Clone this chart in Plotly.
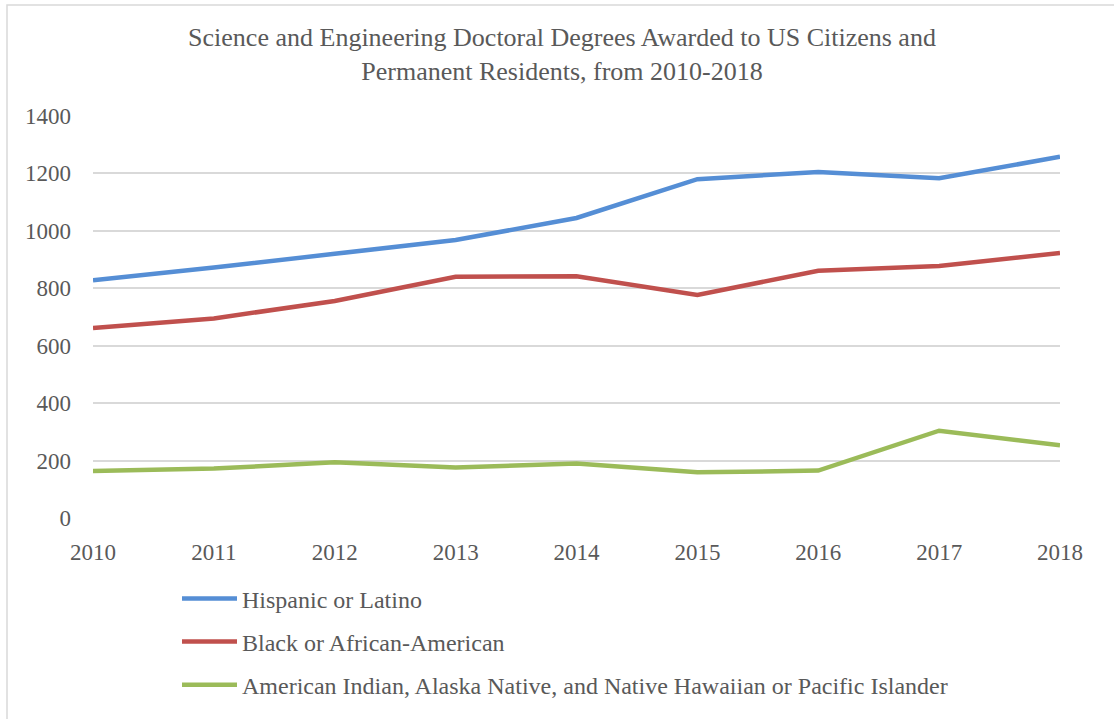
import plotly.graph_objects as go

years = [2010, 2011, 2012, 2013, 2014, 2015, 2016, 2017, 2018]
hispanic = [828, 872, 920, 968, 1045, 1180, 1205, 1183, 1258]
black = [662, 695, 756, 840, 842, 777, 861, 878, 923]
native = [164, 172, 194, 176, 190, 159, 165, 304, 253]

series_names = [
    "Hispanic or Latino",
    "Black or African-American",
    "American Indian, Alaska Native, and Native Hawaiian or Pacific Islander",
]
series_values = [hispanic, black, native]
series_colors = ["#558ED5", "#C0504D", "#9BBB59"]

title_text = ("Science and Engineering Doctoral Degrees Awarded to US Citizens and"
              "<br>Permanent Residents, from 2010-2018")

W, H = 1114, 719
L, R, T, B = 93, 1060, 116, 523

FONT = "Liberation Serif, Times New Roman, serif"
TXT = "#595959"

fig = go.Figure()
for i, (name, vals, col) in enumerate(zip(series_names, series_values, series_colors)):
    fig.add_trace(go.Scatter(
        x=years, y=vals, mode="lines", name=name,
        line=dict(color=col, width=4.5),
        legendgroup=f"g{i}",
    ))

pw, ph = R - L, B - T
def px2paper_x(px):
    return (px - L) / pw
def px2paper_y(py):
    return (B - py) / ph

fig.update_layout(
    width=W, height=H,
    margin=dict(l=L, r=W - R, t=T, b=H - B),
    paper_bgcolor="white", plot_bgcolor="white",
    font=dict(family=FONT, size=22, color=TXT),
    title=dict(text=title_text, x=562 / W, xanchor="center", xref="container",
               y=1 - 46 / H, yanchor="top", yref="container",
               font=dict(family=FONT, size=26, color=TXT)),
    xaxis=dict(range=[2010, 2018], tickmode="array", tickvals=years,
               ticktext=[str(y) for y in years], showgrid=False, zeroline=False,
               showline=False, ticks="", ticklabelstandoff=18,
               tickfont=dict(family=FONT, size=23, color=TXT)),
    yaxis=dict(range=[0, 1400], tickvals=[0, 200, 400, 600, 800, 1000, 1200, 1400],
               showgrid=True, gridcolor="#D9D9D9", gridwidth=1.5, zeroline=False,
               showline=False, ticks="", ticklabelstandoff=21,
               tickfont=dict(family=FONT, size=23, color=TXT)),
    legend=dict(x=px2paper_x(177), y=px2paper_y(582), xanchor="left", yanchor="top",
                orientation="v", traceorder="grouped", tracegroupgap=9,
                itemwidth=55, font=dict(family=FONT, size=24, color=TXT),
                bgcolor="rgba(0,0,0,0)"),
    showlegend=True,
)

# outer chart-area border (Excel style), extending beyond the window
fig.add_shape(type="rect", xref="paper", yref="paper",
              x0=px2paper_x(7), x1=px2paper_x(W + 40),
              y0=px2paper_y(H + 40), y1=px2paper_y(3.5),
              line=dict(color="#D9D9D9", width=1.5), fillcolor="rgba(0,0,0,0)",
              layer="below")

fig.write_html("out.html")
